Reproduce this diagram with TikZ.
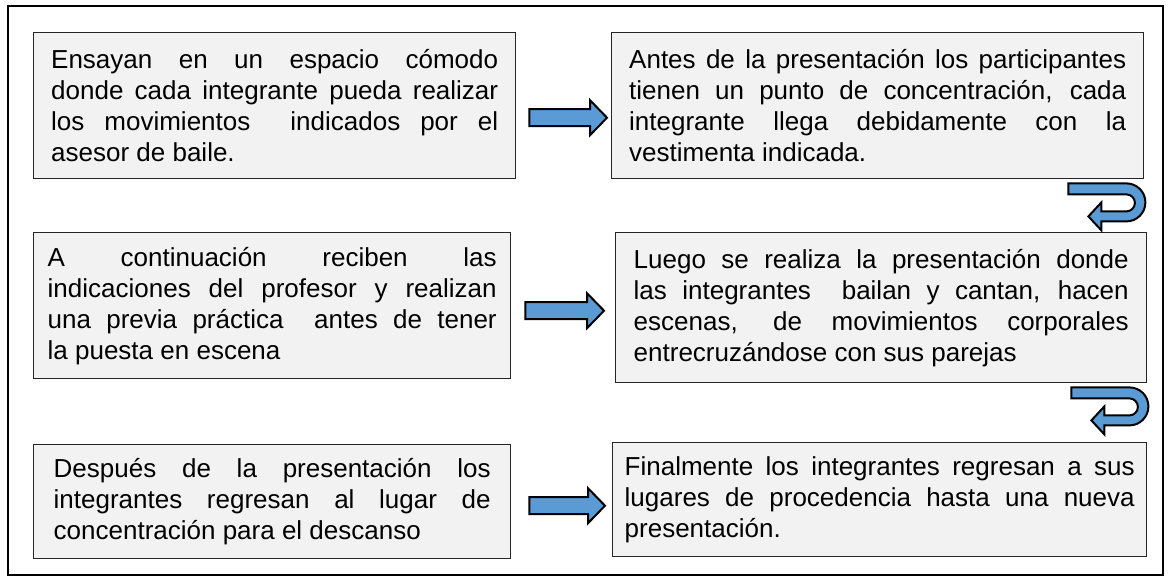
\documentclass[tikz,border=0pt]{standalone}
\usepackage{fontspec}
\setmainfont{Liberation Sans}
\usetikzlibrary{calc}
\definecolor{boxgray}{HTML}{F2F2F2}
\definecolor{arrowblue}{HTML}{5B9BD5}
\tikzset{
  stepbox/.style={draw=black!85, line width=1.4pt, fill=boxgray, anchor=north west,
    align=justify, inner xsep=0pt, inner ysep=0pt,
    font=\fontsize{26}{31}\selectfont},
  blockarrow/.style={draw=black, line width=2pt, fill=arrowblue}
}
\newcommand{\rightblock}[2]{%
  \draw[blockarrow] let \p1=(#1), \p2=(#2) in
    (\x1,\y1+8.5pt) -- (\x2-17pt,\y1+8.5pt) -- (\x2-17pt,\y1+17.5pt) -- (\x2,\y1)
    -- (\x2-17pt,\y1-17.5pt) -- (\x2-17pt,\y1-8.5pt) -- (\x1,\y1-8.5pt) -- cycle;}
\newcommand{\turnblock}[1]{%
  \draw[blockarrow] (#1) -- ++(58,0) arc[start angle=-90,end angle=90,radius=19]
    -- ++(-25,0) -- ++(0,9) -- ++(-13,-14) -- ++(13,-14) -- ++(0,9) -- ++(25,0)
    arc[start angle=90,end angle=-90,radius=8.5] -- ++(-58,0) -- cycle;}
\begin{document}
\begin{tikzpicture}[x=1pt, y=-1pt]
\useasboundingbox (0,0) rectangle (1170,580);
\draw[line width=2pt] (8,6) rectangle (1163,575);

\node[stepbox, text width=447pt, minimum width=482pt, minimum height=146pt] (ensayo) at (33,32)
  {Ensayan en un espacio cómodo\linebreak donde cada integrante pueda realizar\linebreak
   los movimientos \ indicados por el\linebreak asesor de baile.};
\node[stepbox, text width=497pt, minimum width=532pt, minimum height=146pt] (concentra) at (611,32)
  {Antes de la presentación los participantes\linebreak tienen un punto de concentración, cada\linebreak
   integrante llega debidamente con la\linebreak vestimenta indicada.};
\node[stepbox, text width=449pt, minimum width=477pt, minimum height=146pt] (indica) at (33,232)
  {A continuación reciben las\linebreak indicaciones del profesor y realizan\linebreak
   una previa práctica \ antes de tener\linebreak la puesta en escena};
\node[stepbox, text width=495pt, minimum width=531pt, minimum height=150pt] (presenta) at (615,232)
  {Luego se realiza la presentación donde\linebreak las integrantes \ bailan y cantan, hacen\linebreak
   escenas, de movimientos corporales\linebreak entrecruzándose con sus parejas};
\node[stepbox, text width=437pt, minimum width=477pt, minimum height=114pt] (descanso) at (33,444)
  {Después de la presentación los\linebreak integrantes regresan al lugar de\linebreak
   concentración para el descanso};
\node[stepbox, text width=510pt, minimum width=534pt, minimum height=114pt] (regreso) at (612,442)
  {Finalmente los integrantes regresan a sus\linebreak lugares de procedencia hasta una nueva\linebreak
   presentación.};

\coordinate (a1) at ([xshift=13pt,yshift=-12pt]ensayo.east);
\coordinate (a2) at ([xshift=14pt,yshift=-5pt]indica.east);
\coordinate (a3) at ([xshift=18pt,yshift=-4pt]descanso.east);
\rightblock{a1}{$(a1 -| concentra.west)+(-4,0)$}
\rightblock{a2}{$(a2 -| presenta.west)+(-11,0)$}
\rightblock{a3}{$(a3 -| regreso.west)+(-7,0)$}

\coordinate (u1) at ([xshift=-76pt,yshift=-4pt]concentra.south east);
\coordinate (u2) at ([xshift=-76pt,yshift=-4pt]presenta.south east);
\turnblock{u1}
\turnblock{u2}
\end{tikzpicture}
\end{document}
